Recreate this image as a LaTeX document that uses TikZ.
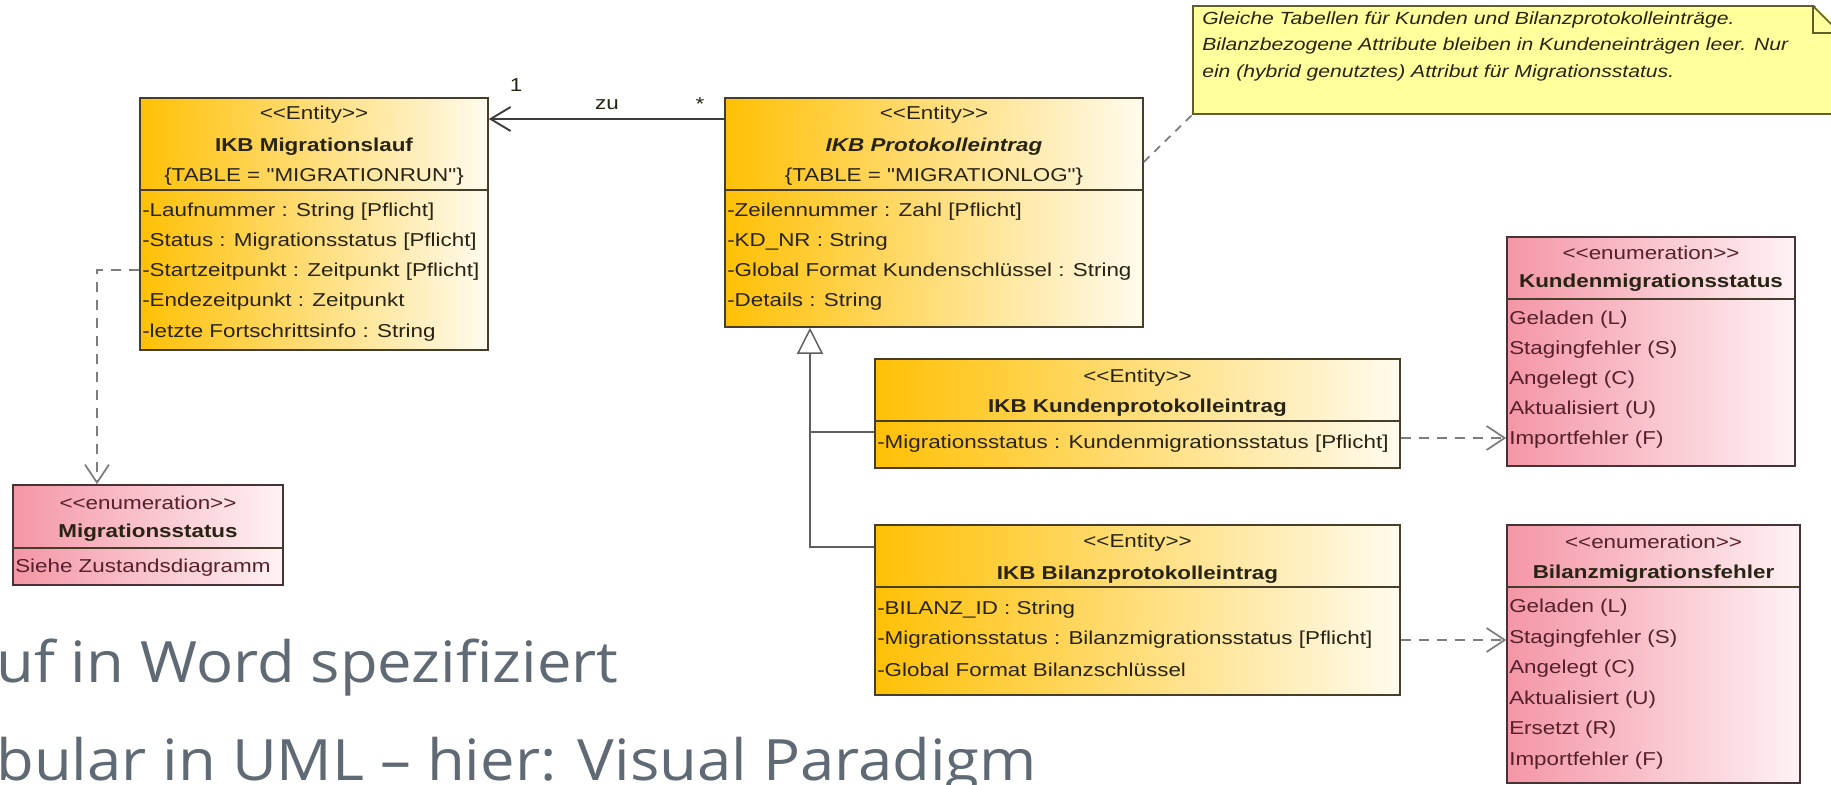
\documentclass[tikz,border=0pt]{standalone}
\usepackage{fontspec}
\setmainfont{Liberation Sans}[FakeStretch=1.2,Ligatures=TeXOff]
\newfontfamily\slidefont{Open Sans}[FakeStretch=1.08,Ligatures=TeXOff]
\usepackage{tikz}
\usetikzlibrary{arrows.meta}

\begin{document}
\begin{tikzpicture}[x=0.75pt,y=0.75pt,yscale=-1,xscale=1,
  entity/.style={draw={rgb, 255:red, 70; green, 62; blue, 40 }, line width=1.2pt, inner sep=0pt,
    left color={rgb, 255:red, 255; green, 192; blue, 5 }, right color={rgb, 255:red, 255; green, 251; blue, 238 }},
  enumbox/.style={draw={rgb, 255:red, 70; green, 50; blue, 55 }, line width=1.2pt, inner sep=0pt,
    left color={rgb, 255:red, 244; green, 150; blue, 166 }, right color={rgb, 255:red, 254; green, 242; blue, 245 }},
  notebox/.style={draw={rgb, 255:red, 95; green, 95; blue, 45 }, line width=1.2pt, inner sep=0pt,
    fill={rgb, 255:red, 255; green, 255; blue, 155 }},
  txt/.style={inner sep=0.75pt, font=\fontsize{14}{16}\selectfont, text={rgb, 255:red, 40; green, 36; blue, 20 }},
  enumtxt/.style={txt, text={rgb, 255:red, 85; green, 32; blue, 42 }},
  sepline/.style={draw={rgb, 255:red, 70; green, 62; blue, 40 }, line width=1.2pt},
  dep/.style={draw={rgb, 255:red, 125; green, 125; blue, 125 }, line width=1.3pt, dash pattern=on 7.5pt off 6pt,
    -{Straight Barb[length=13.5pt,width=18pt]}},
  assoc/.style={draw={rgb, 255:red, 60; green, 60; blue, 60 }, line width=1.4pt, -{Straight Barb[length=15pt,width=18pt]}},
  gen/.style={draw={rgb, 255:red, 95; green, 95; blue, 95 }, line width=1.1pt},
  notelink/.style={draw={rgb, 255:red, 125; green, 125; blue, 125 }, line width=1.3pt, dash pattern=on 6pt off 5pt}]
\useasboundingbox (0,0) rectangle (1831,785);
\clip (0,0) rectangle (1831,785);
\fill [white] (0,0) rectangle (1831,785);

% Slide Text
\draw (-4,682) node [anchor=base west][inner sep=0pt, font=\slidefont\fontsize{42.75}{50}\selectfont, text={rgb, 255:red, 96; green, 106; blue, 116 }] (slideA) {uf in Word spezifiziert};
\draw (-4,780) node [anchor=base west][inner sep=0pt, font=\slidefont\fontsize{42.75}{50}\selectfont, text={rgb, 255:red, 96; green, 106; blue, 116 }] (slideB) {bular in UML – hier: Visual Paradigm};

%Shape: Class [IKB Migrationslauf]
\node [entity, minimum width=261pt, minimum height=189pt] (lauf) at (314,224) {};
\draw [sepline] (lauf.west |- 0,190) -- (lauf.east |- 0,190);
\draw (314,115) node [txt] (laufSt) {<<Entity>>};
\draw (314,147) node [txt] (laufName) {\bfseries IKB Migrationslauf};
\draw (314,177) node [txt] (laufTab) {\{TABLE = "MIGRATIONRUN"\}};
\draw (141,212) node [anchor=west][txt] (laufA) {-Laufnummer : String [Pflicht]};
\draw (141,242) node [anchor=west][txt] (laufB) {-Status : Migrationsstatus [Pflicht]};
\draw (141,272) node [anchor=west][txt] (laufC) {-Startzeitpunkt : Zeitpunkt [Pflicht]};
\draw (141,302) node [anchor=west][txt] (laufD) {-Endezeitpunkt : Zeitpunkt};
\draw (141,333) node [anchor=west][txt] (laufE) {-letzte Fortschrittsinfo : String};

%Shape: Class [IKB Protokolleintrag]
\node [entity, minimum width=313.5pt, minimum height=171.75pt] (prot) at (934,212.5) {};
\draw [sepline] (prot.west |- 0,190) -- (prot.east |- 0,190);
\draw (934,115) node [txt] (protSt) {<<Entity>>};
\draw (934,147) node [txt] (protName) {\bfseries\itshape IKB Protokolleintrag};
\draw (934,177) node [txt] (protTab) {\{TABLE = "MIGRATIONLOG"\}};
\draw (726,212) node [anchor=west][txt] (protA) {-Zeilennummer : Zahl [Pflicht]};
\draw (726,242) node [anchor=west][txt] (protB) {-KD\_NR : String};
\draw (726,272) node [anchor=west][txt] (protC) {-Global Format Kundenschlüssel : String};
\draw (726,302) node [anchor=west][txt] (protD) {-Details : String};

%Shape: Class [IKB Kundenprotokolleintrag]
\node [entity, minimum width=393.75pt, minimum height=81.75pt] (kunde) at (1137.5,413.5) {};
\draw [sepline] (kunde.west |- 0,421) -- (kunde.east |- 0,421);
\draw (1137.5,378) node [txt] (kundeSt) {<<Entity>>};
\draw (1137.5,408) node [txt] (kundeName) {\bfseries IKB Kundenprotokolleintrag};
\draw (876,444) node [anchor=west][txt] (kundeA) {-Migrationsstatus : Kundenmigrationsstatus [Pflicht]};

%Shape: Class [IKB Bilanzprotokolleintrag]
\node [entity, minimum width=393.75pt, minimum height=127.5pt] (bilanz) at (1137.5,610) {};
\draw [sepline] (bilanz.west |- 0,587) -- (bilanz.east |- 0,587);
\draw (1137.5,543) node [txt] (bilanzSt) {<<Entity>>};
\draw (1137.5,575) node [txt] (bilanzName) {\bfseries IKB Bilanzprotokolleintrag};
\draw (876,610) node [anchor=west][txt] (bilanzA) {-BILANZ\_ID : String};
\draw (876,640) node [anchor=west][txt] (bilanzB) {-Migrationsstatus : Bilanzmigrationsstatus [Pflicht]};
\draw (876,670) node [anchor=west][txt] (bilanzC) {-Global Format Bilanzschlüssel};

%Shape: Enumeration [Migrationsstatus]
\node [enumbox, minimum width=202.5pt, minimum height=75pt] (mstatus) at (148,535) {};
\draw [sepline] (mstatus.west |- 0,548) -- (mstatus.east |- 0,548);
\draw (148,503) node [enumtxt] (mstatusSt) {<<enumeration>>};
\draw (148,533) node [txt] (mstatusName) {\bfseries Migrationsstatus};
\draw (14,568) node [anchor=west][enumtxt] (mstatusA) {Siehe Zustandsdiagramm};

%Shape: Enumeration [Kundenmigrationsstatus]
\node [enumbox, minimum width=216pt, minimum height=171.75pt] (kstatus) at (1651,351.5) {};
\draw [sepline] (kstatus.west |- 0,299) -- (kstatus.east |- 0,299);
\draw (1651,253) node [enumtxt] (kstatusSt) {<<enumeration>>};
\draw (1651,283) node [txt] (kstatusName) {\bfseries Kundenmigrationsstatus};
\draw (1508,320) node [anchor=west][enumtxt] (kstatusA) {Geladen (L)};
\draw (1508,350) node [anchor=west][enumtxt] (kstatusB) {Stagingfehler (S)};
\draw (1508,380) node [anchor=west][enumtxt] (kstatusC) {Angelegt (C)};
\draw (1508,410) node [anchor=west][enumtxt] (kstatusD) {Aktualisiert (U)};
\draw (1508,440) node [anchor=west][enumtxt] (kstatusE) {Importfehler (F)};

%Shape: Enumeration [Bilanzmigrationsfehler]
\node [enumbox, minimum width=219.75pt, minimum height=193.5pt] (bstatus) at (1653.5,654) {};
\draw [sepline] (bstatus.west |- 0,587) -- (bstatus.east |- 0,587);
\draw (1653.5,542) node [enumtxt] (bstatusSt) {<<enumeration>>};
\draw (1653.5,574) node [txt] (bstatusName) {\bfseries Bilanzmigrationsfehler};
\draw (1508,608) node [anchor=west][enumtxt] (bstatusA) {Geladen (L)};
\draw (1508,639) node [anchor=west][enumtxt] (bstatusB) {Stagingfehler (S)};
\draw (1508,669) node [anchor=west][enumtxt] (bstatusC) {Angelegt (C)};
\draw (1508,700) node [anchor=west][enumtxt] (bstatusD) {Aktualisiert (U)};
\draw (1508,730) node [anchor=west][enumtxt] (bstatusE) {Ersetzt (R)};
\draw (1508,761) node [anchor=west][enumtxt] (bstatusF) {Importfehler (F)};

%Shape: Note
\node [notebox, minimum width=485.25pt, minimum height=81pt] (note) at (1516.5,60) {};
\fill [white] (1813,4) -- (1845,4) -- (1845,33) -- cycle;
\draw [draw={rgb, 255:red, 95; green, 95; blue, 45 }, line width=1.2pt] (1813,6) -- (1813,33) -- (1840,33) (1813,6) -- (1840,33);
\draw (1201,46) node [anchor=west][txt, align=left, font=\fontsize{13.2}{19.9}\selectfont\itshape] (noteText) {Gleiche Tabellen für Kunden und Bilanzprotokolleinträge.\\Bilanzbezogene Attribute bleiben in Kundeneinträgen leer. Nur\\ein (hybrid genutztes) Attribut für Migrationsstatus.};

%Straight Lines [note link]
\draw [notelink] (prot.east |- 0,162) -- (note.south west);

%Straight Lines [association zu]
\draw [assoc] (prot.west |- 0,119) -- (lauf.east |- 0,119);
\draw (516,91) node [anchor=base][txt] (multOne) {1};
\draw (607,105) node [txt] (assocName) {zu};
\draw (700,110) node [anchor=base][txt] (multMany) {*};

%Straight Lines [generalization]
\coordinate (genJoin) at (810,432);
\draw [gen, -{Triangle[open, length=19.5pt, width=19.5pt, fill=white]}] (bilanz.west |- 0,547) -| (prot.south -| 810,0);
\draw [gen] (kunde.west |- 0,432) -- (genJoin);

%Straight Lines [dependencies]
\draw [dep] (lauf.west |- 0,270) -| (mstatus.north -| 97,0);
\draw [dep] (kunde.east |- 0,438) -- (kstatus.west |- 0,438);
\draw [dep] (bilanz.east |- 0,640) -- (bstatus.west |- 0,640);
\end{tikzpicture}
\end{document}
